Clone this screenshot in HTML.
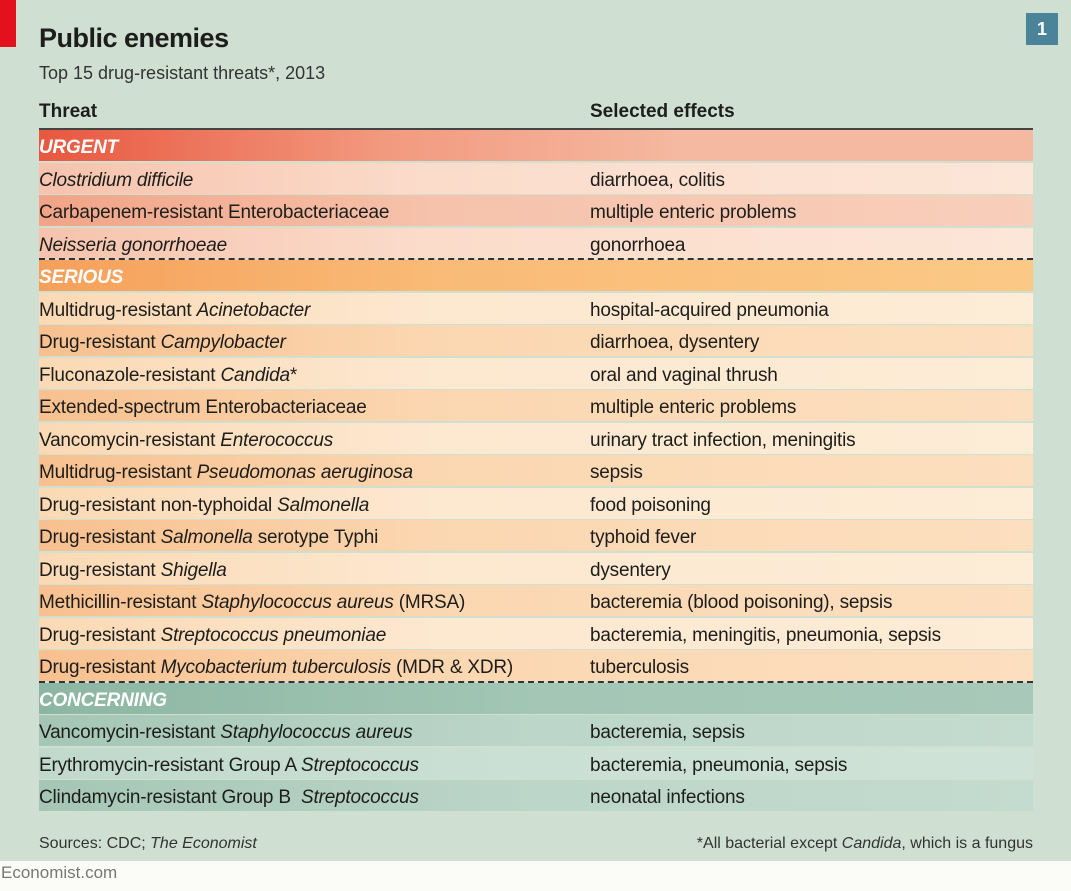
<!DOCTYPE html>
<html><head><meta charset="utf-8">
<style>
*{margin:0;padding:0;box-sizing:border-box}
body{width:1071px;height:891px;background:#cfe0d3;font-family:"Liberation Sans",sans-serif;color:#1d1d1b;position:relative;overflow:hidden}
.abs{position:absolute}
.row{position:absolute;left:39px;width:994px;height:31px;font-size:19px;line-height:35px;letter-spacing:-0.2px}
.row .c1{position:absolute;left:0}
.row .c2{position:absolute;left:551px}
.hdr{color:#fff;font-style:italic;font-weight:bold;font-size:19px}
.dash{position:absolute;left:39px;width:994px;height:0;border-top:2px dashed #333}
i{font-style:italic}
</style></head><body>
<div class="abs" style="left:0;top:0;width:16px;height:47px;background:#e3101e"></div>
<div class="abs" style="left:39px;top:23px;font-size:27px;font-weight:bold;letter-spacing:-0.5px">Public enemies</div>
<div class="abs" style="left:39px;top:63px;font-size:18px;color:#333">Top 15 drug-resistant threats*, 2013</div>
<div class="abs" style="left:1026px;top:13px;width:32px;height:32px;background:#4b8499;color:#fff;font-weight:bold;font-size:18px;text-align:center;line-height:32px">1</div>
<div class="abs" style="left:39px;top:101px;font-size:19px;font-weight:bold">Threat</div>
<div class="abs" style="left:590px;top:101px;font-size:19px;font-weight:bold">Selected effects</div>
<div class="abs" style="left:39px;top:128px;width:994px;height:2px;background:#444"></div>
<div id="tbl"></div>
<div class="abs" style="left:39px;top:835px;font-size:16px;color:#333">Sources: CDC; <i>The Economist</i></div>
<div class="abs" style="right:38px;top:835px;font-size:16px;color:#333">*All bacterial except <i>Candida</i>, which is a fungus</div>
<div class="abs" style="left:0;top:861px;width:1071px;height:30px;background:#fbfbf7"></div>
<div class="abs" style="left:1px;top:863px;font-size:17px;color:#777">Economist.com</div>
<script>
const rows=[
["h","URGENT","","u"],
["r","<i>Clostridium difficile</i>","diarrhoea, colitis","u1"],
["r","Carbapenem-resistant Enterobacteriaceae","multiple enteric problems","u2"],
["r","<i>Neisseria gonorrhoeae</i>","gonorrhoea","u1"],
["h","SERIOUS","","s"],
["r","Multidrug-resistant <i>Acinetobacter</i>","hospital-acquired pneumonia","s1"],
["r","Drug-resistant <i>Campylobacter</i>","diarrhoea, dysentery","s2"],
["r","Fluconazole-resistant <i>Candida</i>*","oral and vaginal thrush","s1"],
["r","Extended-spectrum Enterobacteriaceae","multiple enteric problems","s2"],
["r","Vancomycin-resistant <i>Enterococcus</i>","urinary tract infection, meningitis","s1"],
["r","Multidrug-resistant <i>Pseudomonas aeruginosa</i>","sepsis","s2"],
["r","Drug-resistant non-typhoidal <i>Salmonella</i>","food poisoning","s1"],
["r","Drug-resistant <i>Salmonella</i> serotype Typhi","typhoid fever","s2"],
["r","Drug-resistant <i>Shigella</i>","dysentery","s1"],
["r","Methicillin-resistant <i>Staphylococcus aureus</i> (MRSA)","bacteremia (blood poisoning), sepsis","s2"],
["r","Drug-resistant <i>Streptococcus pneumoniae</i>","bacteremia, meningitis, pneumonia, sepsis","s1"],
["r","Drug-resistant <i>Mycobacterium tuberculosis</i> (MDR &amp; XDR)","tuberculosis","s2"],
["h","CONCERNING","","c"],
["r","Vancomycin-resistant <i>Staphylococcus aureus</i>","bacteremia, sepsis","c2"],
["r","Erythromycin-resistant Group A <i>Streptococcus</i>","bacteremia, pneumonia, sepsis","c1"],
["r","Clindamycin-resistant Group B&nbsp; <i>Streptococcus</i>","neonatal infections","c2"]
];
const bg={
u:"linear-gradient(to right,#e8573f 0%,#f29a7f 35%,#f5b9a1 65%,#f5b9a1 100%)",
u1:"linear-gradient(to right,#f6c3ad 0%,#fbdccb 40%,#fce6d7 100%)",
u2:"linear-gradient(to right,#f1a487 0%,#f6c2ab 40%,#f8cfbb 100%)",
s:"linear-gradient(to right,#f5a05a 0%,#f9bb77 40%,#fbc986 100%)",
s1:"linear-gradient(to right,#fbd9b4 0%,#fde8d0 40%,#fdecd6 100%)",
s2:"linear-gradient(to right,#f8c08f 0%,#fbd7b1 40%,#fcdfbf 100%)",
c:"linear-gradient(to right,#8cb6a3 0%,#a3c6b5 50%,#a8c9b9 100%)",
c1:"linear-gradient(to right,#c1d9cd 0%,#cbe0d5 50%,#cfe2d7 100%)",
c2:"linear-gradient(to right,#a5c6b6 0%,#bcd6c9 50%,#c4dbcf 100%)"
};
const tbl=document.getElementById('tbl');
const top0=130,pitch=32.5;
rows.forEach((r,i)=>{
  const d=document.createElement('div');
  d.className='row'+(r[0]==='h'?' hdr':'');
  d.style.top=(top0+i*pitch)+'px';
  d.style.background=bg[r[3]];
  
  
  d.innerHTML='<span class="c1">'+r[1]+'</span><span class="c2">'+r[2]+'</span>';
  tbl.appendChild(d);
  if(r[0]==='h' && i>0){
    const ds=document.createElement('div');
    ds.className='dash';
    ds.style.top=(top0+i*pitch-2)+'px';
    
    
    tbl.appendChild(ds);
  }
});
</script>
</body></html>
